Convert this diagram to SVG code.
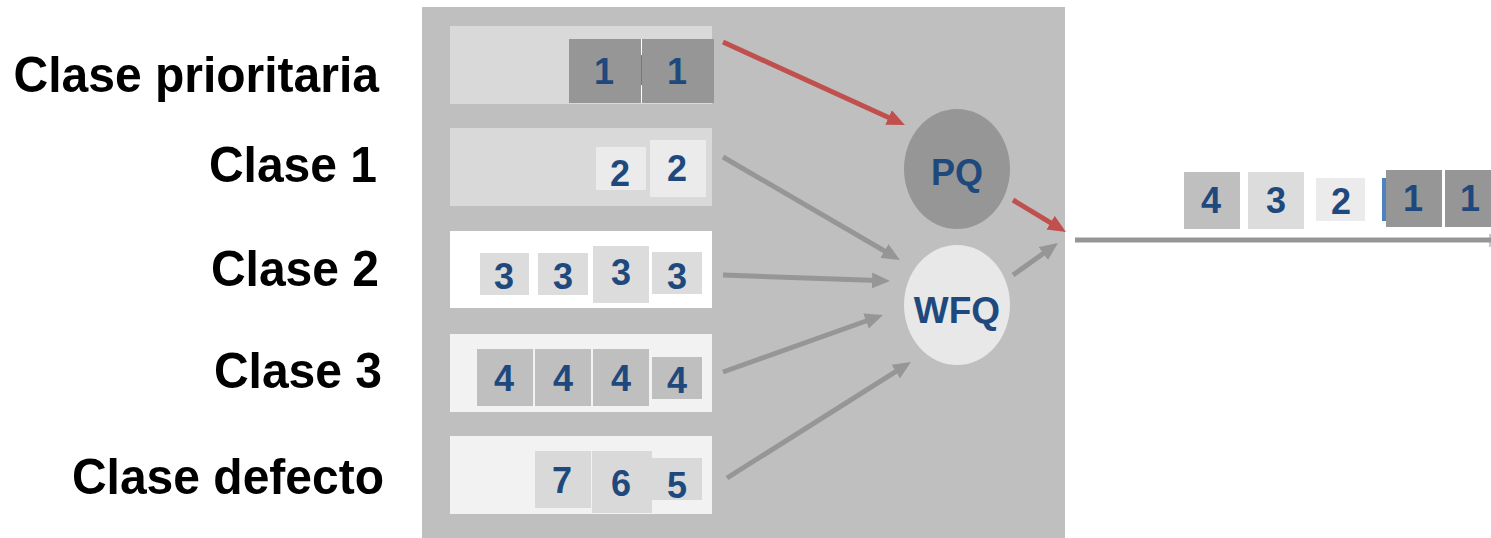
<svg xmlns="http://www.w3.org/2000/svg" width="1491" height="538" viewBox="0 0 1491 538">
<style>
.lbl{font-family:"Liberation Sans",Arial,sans-serif;font-weight:bold;font-size:48px;fill:#000;text-anchor:end}
.num{font-family:"Liberation Sans",Arial,sans-serif;font-weight:bold;font-size:36px;fill:#1f497d;text-anchor:middle}
.red{stroke:#c0504d;stroke-width:5;fill:none}
.gry{stroke:#969696;stroke-width:5;fill:none}
</style>
<defs>
<marker id="ar" markerUnits="userSpaceOnUse" markerWidth="18" markerHeight="16" refX="6" refY="8" orient="auto"><path d="M0,0 L18,8 L0,16 z" fill="#c0504d"/></marker>
<marker id="ag" markerUnits="userSpaceOnUse" markerWidth="18" markerHeight="16" refX="6" refY="8" orient="auto"><path d="M0,0 L18,8 L0,16 z" fill="#969696"/></marker>
</defs>
<rect width="1491" height="538" fill="#fff"/>
<g id="labels">
<text class="lbl" transform="translate(379,92) scale(1,1.05)">Clase prioritaria</text>
<text class="lbl" transform="translate(377,182) scale(1,1.05)">Clase 1</text>
<text class="lbl" transform="translate(379,286) scale(1,1.05)">Clase 2</text>
<text class="lbl" transform="translate(382,388) scale(1,1.05)">Clase 3</text>
<text class="lbl" transform="translate(384,494) scale(1,1.05)">Clase defecto</text>
</g>
<rect id="panel" x="422" y="7" width="643" height="531" fill="#bfbfbf"/>
<g id="queue-prio">
<rect x="450" y="26" width="262" height="78" fill="#d9d9d9"/>
<rect x="569" y="39" width="72" height="64" fill="#969696"/>
<rect x="642" y="39" width="72" height="64" fill="#969696"/>
<line x1="641.5" y1="39" x2="641.5" y2="103" stroke="#fff" stroke-width="1"/>
<line x1="641.5" y1="55" x2="641.5" y2="85" stroke="#4f81bd" stroke-width="1"/>
<text class="num" x="604" y="84">1</text>
<text class="num" x="677" y="84">1</text>
</g>
<g id="queue-1">
<rect x="450" y="128" width="262" height="78" fill="#d9d9d9"/>
<rect x="596" y="147" width="50" height="43" fill="#ebebeb"/>
<rect x="650" y="140" width="56" height="57" fill="#ebebeb"/>
<text class="num" x="620" y="186">2</text>
<text class="num" x="677" y="181">2</text>
</g>
<g id="queue-2">
<rect x="450" y="231" width="262" height="77" fill="#fff"/>
<rect x="480" y="253" width="49" height="42" fill="#dcdcdc"/>
<rect x="538" y="253" width="50" height="42" fill="#dcdcdc"/>
<rect x="593" y="246" width="56" height="57" fill="#dcdcdc"/>
<rect x="652" y="252" width="50" height="42" fill="#dcdcdc"/>
<text class="num" x="504" y="289">3</text>
<text class="num" x="563" y="289">3</text>
<text class="num" x="621" y="285">3</text>
<text class="num" x="677" y="289">3</text>
</g>
<g id="queue-3">
<rect x="450" y="334" width="262" height="78" fill="#f2f2f2"/>
<rect x="477" y="349" width="56" height="57" fill="#bfbfbf"/>
<rect x="535" y="349" width="56" height="57" fill="#bfbfbf"/>
<rect x="593" y="349" width="56" height="57" fill="#bfbfbf"/>
<rect x="652" y="357" width="50" height="42" fill="#bfbfbf"/>
<text class="num" x="504" y="391">4</text>
<text class="num" x="563" y="391">4</text>
<text class="num" x="621" y="391">4</text>
<text class="num" x="677" y="393">4</text>
</g>
<g id="queue-default">
<rect x="450" y="436" width="262" height="78" fill="#f2f2f2"/>
<rect x="535" y="451" width="56" height="57" fill="#d9d9d9"/>
<rect x="592" y="451" width="60" height="62" fill="#d9d9d9"/>
<rect x="652" y="458" width="50" height="42" fill="#d9d9d9"/>
<text class="num" x="562" y="493">7</text>
<text class="num" x="621" y="496">6</text>
<text class="num" x="677" y="498">5</text>
</g>
<g id="pq">
<ellipse cx="957" cy="169" rx="53" ry="60" fill="#969696"/>
<text class="num" x="957" y="185">PQ</text>
</g>
<g id="wfq">
<ellipse cx="957" cy="305" rx="53" ry="60" fill="#e8e8e8"/>
<text class="num" x="957" y="323" style="font-size:37px">WFQ</text>
</g>
<g id="connectors">
<line class="red" x1="723" y1="42" x2="894" y2="120" marker-end="url(#ar)"/>
<line class="red" x1="1013" y1="200" x2="1055.7" y2="225.8" marker-end="url(#ar)"/>
<line class="gry" x1="723" y1="157" x2="889.6" y2="254" marker-end="url(#ag)"/>
<line class="gry" x1="723" y1="275" x2="878" y2="280.6" marker-end="url(#ag)"/>
<line class="gry" x1="723" y1="372" x2="871.7" y2="319" marker-end="url(#ag)"/>
<line class="gry" x1="727" y1="478" x2="900.8" y2="368.4" marker-end="url(#ag)"/>
<line class="gry" x1="1013" y1="275" x2="1048.2" y2="250" marker-end="url(#ag)"/>
</g>
<g id="output">
<line x1="1075" y1="240" x2="1491" y2="240" stroke="#969696" stroke-width="5"/>
<line x1="1490" y1="234" x2="1490" y2="247" stroke="#969696" stroke-width="1"/>
<rect x="1184" y="172" width="56" height="57" fill="#bfbfbf"/>
<rect x="1248" y="172" width="56" height="57" fill="#dcdcdc"/>
<rect x="1316" y="178" width="49" height="43" fill="#ebebeb"/>
<rect x="1382" y="178" width="4" height="43" fill="#4f81bd"/>
<rect x="1386" y="170" width="56" height="57" fill="#969696"/>
<rect x="1445" y="170" width="46" height="57" fill="#969696"/>
<text class="num" x="1211" y="213">4</text>
<text class="num" x="1276" y="213">3</text>
<text class="num" x="1341" y="214">2</text>
<text class="num" x="1413" y="211">1</text>
<text class="num" x="1470" y="211">1</text>
</g>
</svg>
